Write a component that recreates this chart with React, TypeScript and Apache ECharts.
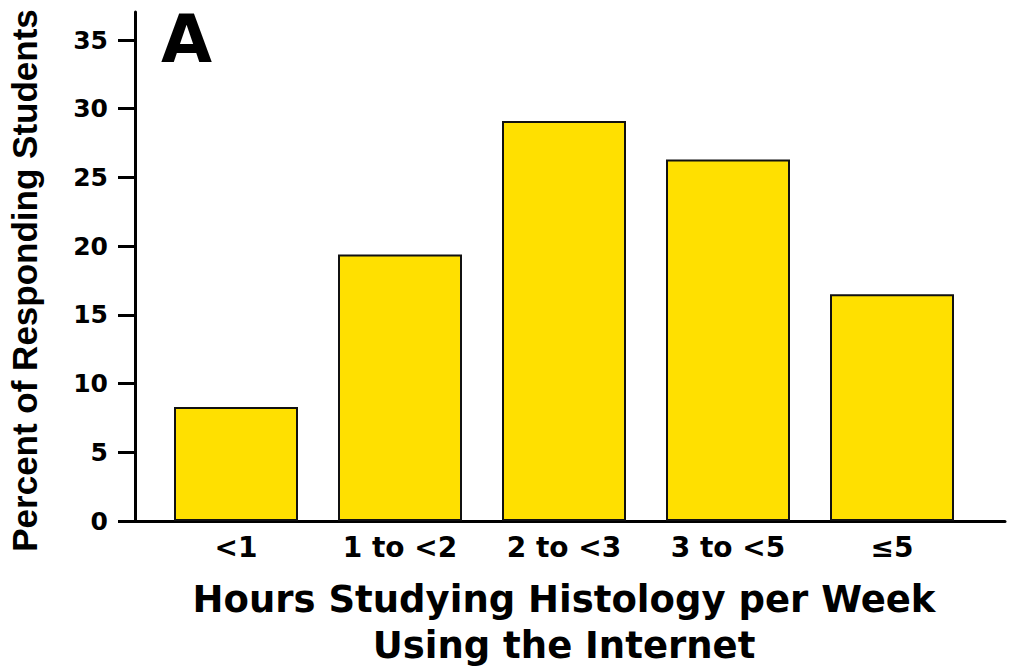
import React, { useEffect, useRef } from "react";
import * as echarts from "echarts";

const categories = ["<1", "1 to <2", "2 to <3", "3 to <5", "≤5"];
const percents = [8.3, 19.4, 29.1, 26.3, 16.5];
const yTicks = { min: 0, max: 35, interval: 5 };
const xTitle = "Hours Studying Histology per Week\nUsing the Internet";
const yTitle = "Percent of Responding Students";
const panelLabel = "A";

const WIDE = "'DejaVu Sans', Verdana, sans-serif";
const NARROW = "'Liberation Sans', Arial, Helvetica, sans-serif";

export default function App() {
  const ref = useRef<HTMLDivElement>(null);
  useEffect(() => {
    if (!ref.current) return;
    const chart = echarts.init(ref.current, undefined, { renderer: "svg" });
    chart.setOption({
      animation: false,
      backgroundColor: "#ffffff",
      grid: [
        { left: 154, right: 37, top: 40, bottom: 149, outerBoundsMode: "none", containLabel: false },
        { left: 135, right: 6, top: 12, bottom: 149, outerBoundsMode: "none", containLabel: false },
      ],
      xAxis: [
        {
          type: "category",
          gridIndex: 0,
          data: categories,
          axisLine: { show: false },
          axisTick: { show: false },
          axisLabel: {
            margin: 12,
            color: "#000",
            fontFamily: WIDE,
            fontWeight: "bold",
            fontSize: 28,
          },
          name: xTitle,
          nameLocation: "middle",
          nameGap: 55,
          nameTextStyle: {
            color: "#000",
            fontFamily: WIDE,
            fontWeight: "bold",
            fontSize: 37,
            lineHeight: 46,
            verticalAlign: "top",
          },
        },
        {
          type: "value",
          gridIndex: 1,
          min: 0,
          max: 1,
          axisLine: { show: true, lineStyle: { color: "#000", width: 3 } },
          axisTick: { show: false },
          axisLabel: { show: false },
          splitLine: { show: false },
        },
      ],
      yAxis: [
        {
          type: "value",
          gridIndex: 0,
          min: yTicks.min,
          max: yTicks.max,
          interval: yTicks.interval,
          offset: 19,
          axisLine: { show: false },
          axisTick: {
            show: true,
            length: 17,
            lineStyle: { color: "#000", width: 3 },
          },
          axisLabel: {
            margin: 27,
            color: "#000",
            fontFamily: WIDE,
            fontWeight: "bold",
            fontSize: 25,
          },
          splitLine: { show: false },
          name: yTitle,
          nameLocation: "middle",
          nameRotate: 90,
          nameGap: 93,
          nameTextStyle: {
            color: "#000",
            fontFamily: NARROW,
            fontWeight: "bold",
            fontSize: 35,
          },
        },
        {
          type: "value",
          gridIndex: 1,
          min: 0,
          max: 1,
          axisLine: { show: true, lineStyle: { color: "#000", width: 3 } },
          axisTick: { show: false },
          axisLabel: { show: false },
          splitLine: { show: false },
        },
      ],
      series: [
        {
          type: "bar",
          xAxisIndex: 0,
          yAxisIndex: 0,
          data: percents,
          barWidth: 124,
          itemStyle: {
            color: "#FFE000",
            borderColor: "#111",
            borderWidth: 2,
          },
        },
        {
          type: "scatter",
          xAxisIndex: 1,
          yAxisIndex: 1,
          data: [],
        },
      ],
      graphic: [
        {
          type: "text",
          left: 161,
          top: 6,
          style: {
            text: panelLabel,
            fill: "#000",
            font: `bold 66px ${WIDE}`,
          },
        },
      ],
    });
    return () => chart.dispose();
  }, []);
  return (
    <div
      ref={ref}
      style={{ position: "fixed", left: 0, top: 0, width: 1011, height: 670 }}
    />
  );
}
